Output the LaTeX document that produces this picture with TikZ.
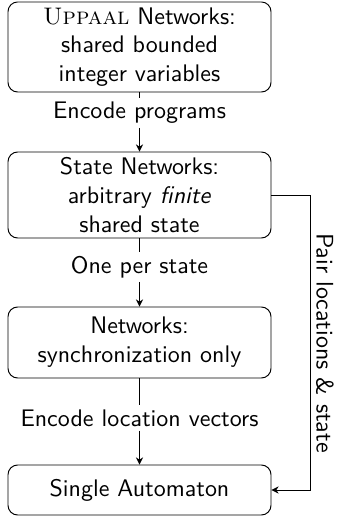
\documentclass[tikz,border=0pt]{standalone}
\usetikzlibrary{arrows.meta}
\renewcommand{\familydefault}{\sfdefault}
\begin{document}
\begin{tikzpicture}[x=0.014663cm, y=-0.014663cm,
  box/.style={draw, rounded corners=4pt, line width=0.4pt, align=center,
    minimum width=3.856cm, inner sep=0pt},
  lbl/.style={fill=white, inner sep=1.5pt},
  arr/.style={-{Stealth[length=3pt,width=3pt,inset=1pt]}, line width=0.4pt}]
\useasboundingbox (0,0) rectangle (341,516);
% boxes
\node[box, minimum height=1.320cm] (b1) at (139.5,47)
  {{\rmfamily\textsc{Uppaal}} Networks:\\ shared bounded\\ integer variables};
\node[box, minimum height=1.261cm] (b2) at (139.5,195)
  {State Networks:\\ arbitrary \textit{finite}\\ shared state};
\node[box, minimum height=1.041cm] (b3) at (139.5,342.5)
  {Networks:\\ synchronization only};
\node[box, minimum height=0.733cm] (b4) at (139.5,490)
  {Single Automaton};
% labels
\node[lbl] (l1) at (139.5,113) {Encode programs};
\node[lbl] (l2) at (139.5,267) {One per state};
\node[lbl] (l3) at (139.5,418) {Encode location vectors};
% connectors
\draw[line width=0.4pt] (b1) -- (l1);
\draw[arr] (l1) -- (b2);
\draw[line width=0.4pt] (b2) -- (l2);
\draw[arr] (l2) -- (b3);
\draw[line width=0.4pt] (b3) -- (l3);
\draw[arr] (l3) -- (b4);
\coordinate (c1) at (310,195);
\coordinate (c2) at (310,490);
\draw[arr] (b2.east) -- (c1) -- (c2) -- (b4.east);
\node[rotate=-90] (l4) at (325,343) {Pair locations \& state};
\end{tikzpicture}
\end{document}
